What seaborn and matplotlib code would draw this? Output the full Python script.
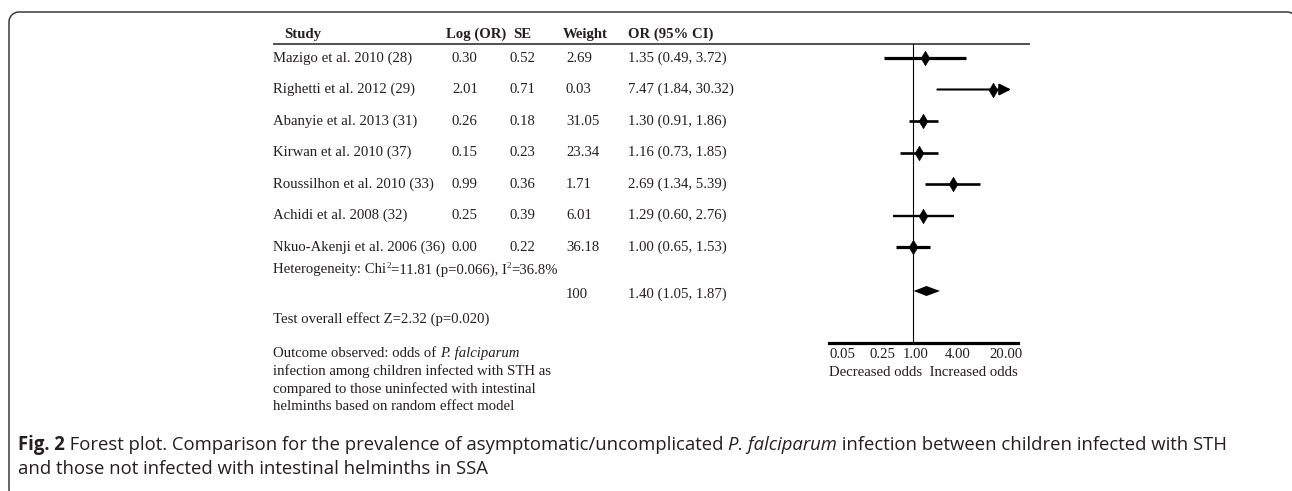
import numpy as np
import pandas as pd
import matplotlib
matplotlib.use("Agg")
import matplotlib.pyplot as plt
import seaborn as sns
from matplotlib.ticker import NullLocator, FixedLocator

# ---------------- data ----------------
studies = ["Mazigo et al. 2010 (28)", "Righetti et al. 2012 (29)", "Abanyie et al. 2013 (31)",
           "Kirwan et al. 2010 (37)", "Roussilhon et al. 2010 (33)", "Achidi et al. 2008 (32)",
           "Nkuo-Akenji et al. 2006 (36)"]
log_or = [0.30, 2.01, 0.26, 0.15, 0.99, 0.25, 0.00]
se = [0.52, 0.71, 0.18, 0.23, 0.36, 0.39, 0.22]
weight = [2.69, 0.03, 31.05, 23.34, 1.71, 6.01, 36.18]
odds_ratio = [1.35, 7.47, 1.30, 1.16, 2.69, 1.29, 1.00]
ci_low = [0.49, 1.84, 0.91, 0.73, 1.34, 0.60, 0.65]
ci_high = [3.72, 30.32, 1.86, 1.85, 5.39, 2.76, 1.53]
pooled_weight = "100"
pooled_or = 1.40
pooled_low = 1.05
pooled_high = 1.87
headers = ["Study", "Log (OR)", "SE", "Weight", "OR (95% CI)"]
tick_labels = ["0.05", "0.25", "1.00", "4.00", "20.00"]
axis_caption = "Decreased odds  Increased odds"
overall_text = "Test overall effect Z=2.32 (p=0.020)"
outcome_lines = ["infection among children infected with STH as",
                 "compared to those uninfected with intestinal",
                 "helminths based on random effect model"]

# ---------------- layout / style ----------------
W, H = 1292, 491
INK = "#231f20"
SERIF = "Liberation Serif"
FS = 10.6
ci_lw = [2.3, 1.5, 1.9, 1.9, 1.9, 1.7, 2.3]  # line widths of the CI bars (style)

sns.set_theme(style="white")
plt.rcParams["font.family"] = [SERIF, "DejaVu Sans"]

fig = plt.figure(figsize=(W / 100, H / 100), dpi=100)
bg = fig.add_axes([0, 0, 1, 1])
bg.set_xlim(0, W)
bg.set_ylim(H, 0)
bg.axis("off")
renderer = fig.canvas.get_renderer()


def text_w(s, **kw):
    t = bg.text(0, 0, s + "|", **kw)
    w1 = t.get_window_extent(renderer).width
    t.remove()
    t = bg.text(0, 0, "|", **kw)
    w2 = t.get_window_extent(renderer).width
    t.remove()
    return w1 - w2


def runs(x, y, parts, base, draw=True):
    for s, extra in parts:
        kw = {**base, **extra}
        dy = kw.pop("dy", 0)
        if draw:
            bg.text(x, y + dy, s, va="baseline", ha="left", **kw)
        x += text_w(s, **kw)
    return x


# rounded frame: left, top and the start of the right/bottom corners
L, T, R, B, RAD = 9, 12, 1297, 500, 10
bl = np.linspace(np.pi / 2, np.pi, 30)          # bottom-left corner (y-down coords)
tl = np.linspace(np.pi, 1.5 * np.pi, 30)        # top-left corner
tr = np.linspace(1.5 * np.pi, 2 * np.pi, 30)    # top-right corner
bx = np.concatenate([[L + RAD + 60], L + RAD + RAD * np.cos(bl), L + RAD + RAD * np.cos(tl),
                     R - RAD + RAD * np.cos(tr), [R, R]])
by = np.concatenate([[B], B - RAD + RAD * np.sin(bl), T + RAD + RAD * np.sin(tl),
                     T + RAD + RAD * np.sin(tr), [T + RAD, B]])
bg.plot(bx, by, color="#3a3a3a", lw=1.1, solid_joinstyle="round")

# header
base = dict(fontsize=FS, color=INK, family=SERIF)
col_x = [273, 452, 510, 566, 628]
head_x = [284, 446, 513, 563, 628]
for hx, h in zip(head_x, headers):
    bg.text(hx, 38, h, fontweight="bold", va="baseline", **base)
bg.plot([273, 1030], [44, 44], color=INK, lw=1.1, solid_capstyle="butt")

# rows
row_base = 61.5
row_step = 31.5
for i in range(len(studies)):
    y = row_base + i * row_step
    vals = [studies[i], f"{log_or[i]:.2f}", f"{se[i]:.2f}", f"{weight[i]:.2f}",
            f"{odds_ratio[i]:.2f} ({ci_low[i]:.2f}, {ci_high[i]:.2f})"]
    for cx, v in zip(col_x, vals):
        bg.text(cx, y, v, va="baseline", **base)

# heterogeneity with superscripts
sup = dict(fontsize=FS * 0.62, dy=-5.0)
runs(273, 273.5, [("Heterogeneity: Chi", {}), ("2", sup), ("=11.81 (p=0.066), I", {}),
                  ("2", sup), ("=36.8%", {})], base)
# pooled row
bg.text(col_x[3], 297.5, pooled_weight, va="baseline", **base)
bg.text(col_x[4], 297.5, f"{pooled_or:.2f} ({pooled_low:.2f}, {pooled_high:.2f})", va="baseline", **base)
bg.text(273, 322.5, overall_text, va="baseline", **base)

# outcome note
runs(273, 357, [("Outcome observed: odds of ", {}), ("P. falciparum", {"style": "italic"})], base)
for k, line in enumerate(outcome_lines):
    bg.text(273, 375 + k * 17.5, line, va="baseline", **base)

# caption (fit to width)
CAP = "Open Sans"
cap_parts = [("Fig. 2", {"fontweight": "bold"}),
             (" Forest plot. Comparison for the prevalence of asymptomatic/uncomplicated ", {}),
             ("P. falciparum", {"style": "italic"}),
             (" infection between children infected with STH", {})]
cap_base = dict(fontsize=10, color="#231f20", family=CAP)
w10 = runs(0, 0, cap_parts, cap_base, draw=False)
cap_fs = 10 * (1228 - 18) / w10
cap_base["fontsize"] = cap_fs
runs(18, 450, cap_parts, cap_base)
bg.text(18, 474, "and those not infected with intestinal helminths in SSA", va="baseline",
        ha="left", **cap_base)

# ---------------- forest axes ----------------
PX_PER_LN = 40.0
X_ONE = 913
ax_l, ax_r, ax_t, ax_b = 829, 1018, 44, 343
ax = fig.add_axes([ax_l / W, (H - ax_b) / H, (ax_r - ax_l) / W, (ax_b - ax_t) / H])
ax.set_facecolor("none")
ax.set_xscale("log")
xmin = np.exp((ax_l - X_ONE) / PX_PER_LN)
xmax = np.exp((ax_r - X_ONE) / PX_PER_LN)
ax.set_xlim(xmin, xmax)
mark_top = 58
ax.set_ylim((ax_b - mark_top) / row_step, (ax_t - mark_top) / row_step)
rows = np.arange(len(studies))
pooled_row = (291 - mark_top) / row_step

df = pd.DataFrame({"study": studies, "OR": odds_ratio, "lo": ci_low, "hi": ci_high, "row": rows})
for i, r in df.iterrows():
    if r["hi"] > xmax:
        tip = xmax * np.exp(-7 / PX_PER_LN)
        ax.annotate("", xy=(tip, r["row"]), xytext=(r["lo"], r["row"]),
                    arrowprops=dict(arrowstyle="-|>", lw=ci_lw[i], color="black",
                                    mutation_scale=17, shrinkA=0, shrinkB=0))
    else:
        ax.plot([r["lo"], r["hi"]], [r["row"], r["row"]], color="black", lw=ci_lw[i],
                solid_capstyle="butt", zorder=2)

sns.scatterplot(data=df, x="OR", y="row", marker="d", s=55, color="black", edgecolor="black",
                linewidth=0.4, ax=ax, zorder=3, legend=False)

# pooled diamond
dh = 5.0 / row_step
ax.fill([pooled_low * 0.97, pooled_or, pooled_high * 1.05, pooled_or],
        [pooled_row, pooled_row - dh, pooled_row, pooled_row + dh], color="black", lw=0, zorder=3)

ax.axvline(1, color="black", lw=0.8, zorder=1)

for sp in ["left", "top", "right"]:
    ax.spines[sp].set_visible(False)
ax.spines["bottom"].set_linewidth(2.3)
ax.spines["bottom"].set_color("black")
ax.set_yticks([])
tick_px = [843, 883, 916, 958, 1006]
tick_pos = [np.exp((p - X_ONE) / PX_PER_LN) for p in tick_px]
ax.xaxis.set_major_locator(FixedLocator(tick_pos))
ax.xaxis.set_minor_locator(NullLocator())
ax.set_xticklabels(tick_labels)
ax.tick_params(axis="x", length=0, pad=3.5, labelsize=FS, labelcolor=INK)
ax.set_xlabel(axis_caption, fontsize=FS, color=INK, labelpad=4)
ax.set_ylabel("")

fig.savefig("out.png", dpi=100)
